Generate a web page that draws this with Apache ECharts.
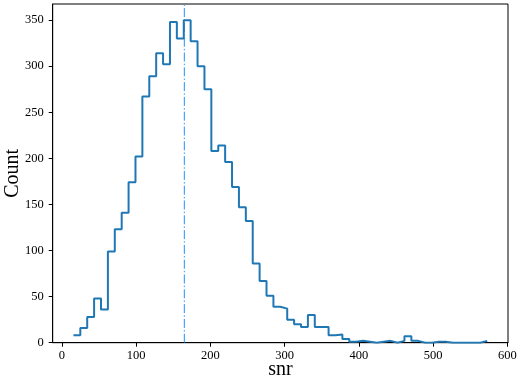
<!DOCTYPE html>
<html>
<head>
<meta charset="utf-8">
<script src="https://cdn.jsdelivr.net/npm/echarts@6/dist/echarts.min.js"></script>
<style>
html,body{margin:0;padding:0;background:#fff;}
#chart{width:520px;height:380px;}
</style>
</head>
<body>
<div id="chart"></div>
<script>
// Histogram of snr: bins start at binStart with width binWidth
var binStart = 15.6;
var binWidth = 9.29;
var counts = [8,16,28,48,36,99,123,141,174,202,
              267,289,314,302,348,330,350,327,300,275,
              208,214,196,169,147,132,86,67,51,39,
              37,25,20,17,30,17,17,8,9,4,
              1,2,1,0,1,2,0,2,7,2,
              0,0,1,1,0,0,0,0,0,2];
var markerX = 165;
var xTicks = [0,100,200,300,400,500,600];
var yTicks = [0,50,100,150,200,250,300,350];
var xLabel = 'snr';
var yLabel = 'Count';
var xMin = -12.3, xMax = 601, yMin = 0, yMax = 367.5;

var stepData = [];
for (var i = 0; i < counts.length; i++) {
  stepData.push([binStart + i * binWidth, counts[i]]);
}
stepData.push([binStart + counts.length * binWidth, counts[counts.length - 1]]);
var markerData = [[markerX, yMin], [markerX, yMax]];

var font = 'Liberation Serif';
var chart = echarts.init(document.getElementById('chart'), null, {renderer: 'canvas'});
chart.setOption({
  animation: false,
  backgroundColor: '#ffffff',
  grid: {left: 52.7, right: 12, top: 4, bottom: 37.3, containLabel: false, outerBoundsMode: 'none',
         show: true, borderColor: '#000', borderWidth: 1, backgroundColor: 'transparent'},
  xAxis: {
    type: 'value', min: xMin, max: xMax,
    name: xLabel, nameLocation: 'middle', nameGap: 17, nameMoveOverlap: false,
    nameTextStyle: {fontFamily: font, fontSize: 20, color: '#000'},
    axisLine: {show: true, onZero: false, lineStyle: {color: '#000', width: 1}},
    axisTick: {show: true, length: 4, customValues: xTicks, lineStyle: {color: '#000'}},
    axisLabel: {customValues: xTicks, margin: 7, fontFamily: font, fontSize: 12.5, color: '#000'},
    splitLine: {show: false}
  },
  yAxis: {
    type: 'value', min: yMin, max: yMax,
    name: yLabel, nameLocation: 'middle', nameGap: 30, nameRotate: 90, nameMoveOverlap: false,
    nameTextStyle: {fontFamily: font, fontSize: 20, color: '#000'},
    axisLine: {show: true, onZero: false, lineStyle: {color: '#000', width: 1}},
    axisTick: {show: true, length: 4, customValues: yTicks, lineStyle: {color: '#000'}},
    axisLabel: {customValues: yTicks, margin: 9, fontFamily: font, fontSize: 12.5, color: '#000'},
    splitLine: {show: false}
  },
  series: [{
    type: 'line',
    step: 'end',
    data: stepData,
    symbol: 'none',
    lineStyle: {color: '#1f77b4', width: 2},
    z: 3
  }, {
    type: 'line',
    data: markerData,
    symbol: 'none',
    lineStyle: {color: '#1e90ff', width: 1, type: [9, 2.2, 1.4, 2.2]},
    z: 2
  }]
});
</script>
</body>
</html>
